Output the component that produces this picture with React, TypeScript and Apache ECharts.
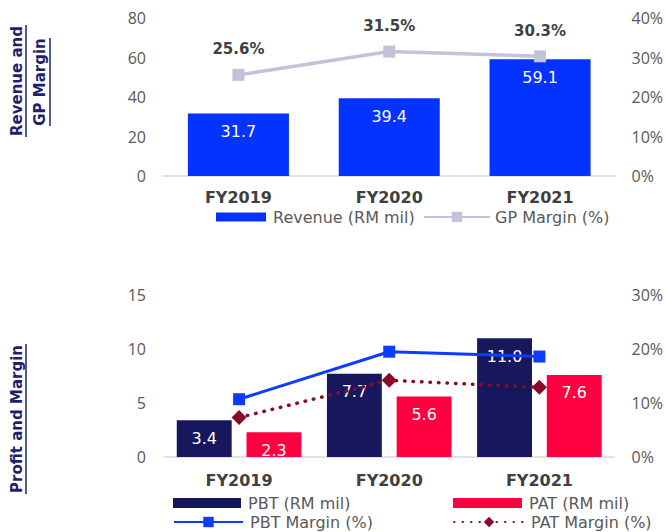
import React, { useEffect, useRef } from "react";
import * as echarts from "echarts";

const years = ["FY2019", "FY2020", "FY2021"];
const revenue = [31.7, 39.4, 59.1];
const gpMargin = [25.6, 31.5, 30.3];
const pbt = [3.4, 7.7, 11.0];
const pat = [2.3, 5.6, 7.6];
const pbtMargin = [10.7, 19.5, 18.6];
const patMargin = [7.3, 14.2, 12.9];

const NAVY = "#1f1f6e";
const GRAY = "#595959";
const FONT = "DejaVu Sans";
const TICKFONT = "Open Sans";

export default function App() {
  const ref = useRef<HTMLDivElement>(null);
  useEffect(() => {
    document.body.style.margin = "0";
    const chart = echarts.init(ref.current!, null, { renderer: "svg" });
    const legendText = { fontFamily: FONT, fontSize: 16, color: GRAY, padding: [0, 0, 0, 2] };
    const lineLegendText = { fontFamily: FONT, fontSize: 16, color: GRAY, padding: [0, 0, 0, 0] };
    const yLabel = (fmt?: string, margin = 17) => ({
      fontFamily: TICKFONT,
      fontSize: 16,
      color: GRAY,
      margin,
      formatter: fmt,
    });
    const xLabel = (margin: number) => ({
      fontFamily: FONT,
      fontWeight: "bold",
      fontSize: 16,
      color: "#404040",
      margin,
    });
    const barLabel = {
      show: true,
      position: "insideTop",
      distance: 10,
      color: "#ffffff",
      fontFamily: FONT,
      fontSize: 16,
      formatter: (p: any) => Number(p.value).toFixed(1),
    };
    const option: any = {
      animation: false,
      grid: [
        { left: 163, right: 44, top: 18, height: 158 },
        { left: 164, right: 41, top: 295, height: 162 },
      ],
      xAxis: [
        {
          gridIndex: 0,
          type: "category",
          data: years,
          axisLine: { lineStyle: { color: "#d9d9d9", width: 1.5 } },
          axisTick: { show: false },
          axisLabel: xLabel(13),
        },
        {
          gridIndex: 1,
          type: "category",
          data: years,
          axisLine: { lineStyle: { color: "#d9d9d9", width: 1.5 } },
          axisTick: { show: false },
          axisLabel: xLabel(15),
        },
      ],
      yAxis: [
        { gridIndex: 0, type: "value", min: 0, max: 80, interval: 20, splitLine: { show: false }, axisLabel: yLabel(undefined, 17) },
        { gridIndex: 0, type: "value", position: "right", min: 0, max: 40, interval: 10, splitLine: { show: false }, axisLabel: yLabel("{value}%", 16) },
        { gridIndex: 1, type: "value", min: 0, max: 15, interval: 5, splitLine: { show: false }, axisLabel: yLabel(undefined, 18) },
        { gridIndex: 1, type: "value", position: "right", min: 0, max: 30, interval: 10, splitLine: { show: false }, axisLabel: yLabel("{value}%", 17) },
      ],
      legend: [
        { data: ["Revenue (RM mil)"], left: 216, top: 209, icon: "rect", itemWidth: 50, itemHeight: 9, padding: 0, selectedMode: false, textStyle: legendText },
        { data: ["GP Margin (%)"], left: 423, top: 209, itemWidth: 66, itemHeight: 13, padding: 0, selectedMode: false, textStyle: lineLegendText },
        { data: ["PBT (RM mil)"], left: 173, top: 495, icon: "rect", itemWidth: 68, itemHeight: 10, padding: 0, selectedMode: false, textStyle: legendText },
        { data: ["PAT (RM mil)"], left: 453, top: 495, icon: "rect", itemWidth: 69, itemHeight: 10, padding: 0, selectedMode: false, textStyle: legendText },
        { data: ["PBT Margin (%)"], left: 173, top: 514, itemWidth: 69, itemHeight: 13, padding: 0, selectedMode: false, textStyle: legendText },
        { data: ["PAT Margin (%)"], left: 453, top: 514, itemWidth: 70, itemHeight: 13, padding: 0, selectedMode: false, textStyle: legendText },
      ],
      series: [
        {
          name: "Revenue (RM mil)",
          type: "bar",
          xAxisIndex: 0,
          yAxisIndex: 0,
          data: revenue,
          barCategoryGap: "33%",
          itemStyle: { color: "#0433ff" },
          label: barLabel,
        },
        {
          name: "GP Margin (%)",
          type: "line",
          xAxisIndex: 0,
          yAxisIndex: 1,
          data: gpMargin,
          symbol: "rect",
          symbolSize: 12,
          lineStyle: { color: "#c4c2d8", width: 3.5 },
          itemStyle: { color: "#c4c2d8" },
          label: {
            show: true,
            position: "top",
            distance: 12,
            color: "#404040",
            fontFamily: FONT,
            fontWeight: "bold",
            fontSize: 15,
            formatter: (p: any) => Number(p.value).toFixed(1) + "%",
          },
        },
        {
          name: "PBT (RM mil)",
          type: "bar",
          xAxisIndex: 1,
          yAxisIndex: 2,
          data: pbt,
          barGap: "27%",
          barCategoryGap: "17%",
          itemStyle: { color: "#17175e" },
          label: barLabel,
        },
        {
          name: "PAT (RM mil)",
          type: "bar",
          xAxisIndex: 1,
          yAxisIndex: 2,
          data: pat,
          barGap: "27%",
          barCategoryGap: "17%",
          itemStyle: { color: "#ff0040" },
          label: barLabel,
        },
        {
          name: "PBT Margin (%)",
          type: "line",
          xAxisIndex: 1,
          yAxisIndex: 3,
          data: pbtMargin,
          symbol: "rect",
          symbolSize: 12,
          lineStyle: { color: "#0a3dff", width: 3 },
          itemStyle: { color: "#0a3dff" },
        },
        {
          name: "PAT Margin (%)",
          type: "line",
          xAxisIndex: 1,
          yAxisIndex: 3,
          data: patMargin,
          symbol: "diamond",
          symbolSize: 15,
          lineStyle: { color: "#8b0a28", width: 3.5, type: [0.5, 8], cap: "round" },
          itemStyle: { color: "#8b0a28" },
        },
      ],
      graphic: [
        {
          type: "text",
          x: 17,
          y: 81,
          rotation: Math.PI / 2,
          style: { text: "Revenue and", fill: NAVY, font: `bold 15px "${FONT}"`, align: "center", verticalAlign: "middle", textAlign: "center", textVerticalAlign: "middle" },
        },
        {
          type: "text",
          x: 40,
          y: 82,
          rotation: Math.PI / 2,
          style: { text: "GP Margin", fill: NAVY, font: `bold 15px "${FONT}"`, align: "center", verticalAlign: "middle", textAlign: "center", textVerticalAlign: "middle" },
        },
        {
          type: "text",
          x: 17,
          y: 419,
          rotation: Math.PI / 2,
          style: { text: "Profit and Margin", fill: NAVY, font: `bold 15px "${FONT}"`, align: "center", verticalAlign: "middle", textAlign: "center", textVerticalAlign: "middle" },
        },
        { type: "line", shape: { x1: 26, y1: 25, x2: 26, y2: 137 }, style: { stroke: NAVY, lineWidth: 1.5 } },
        { type: "line", shape: { x1: 50, y1: 38, x2: 50, y2: 126 }, style: { stroke: NAVY, lineWidth: 1.5 } },
        { type: "line", shape: { x1: 26, y1: 344, x2: 26, y2: 494 }, style: { stroke: NAVY, lineWidth: 1.5 } },
      ],
    };
    chart.setOption(option);
    return () => chart.dispose();
  }, []);
  return <div ref={ref} style={{ width: 666, height: 532 }} />;
}
